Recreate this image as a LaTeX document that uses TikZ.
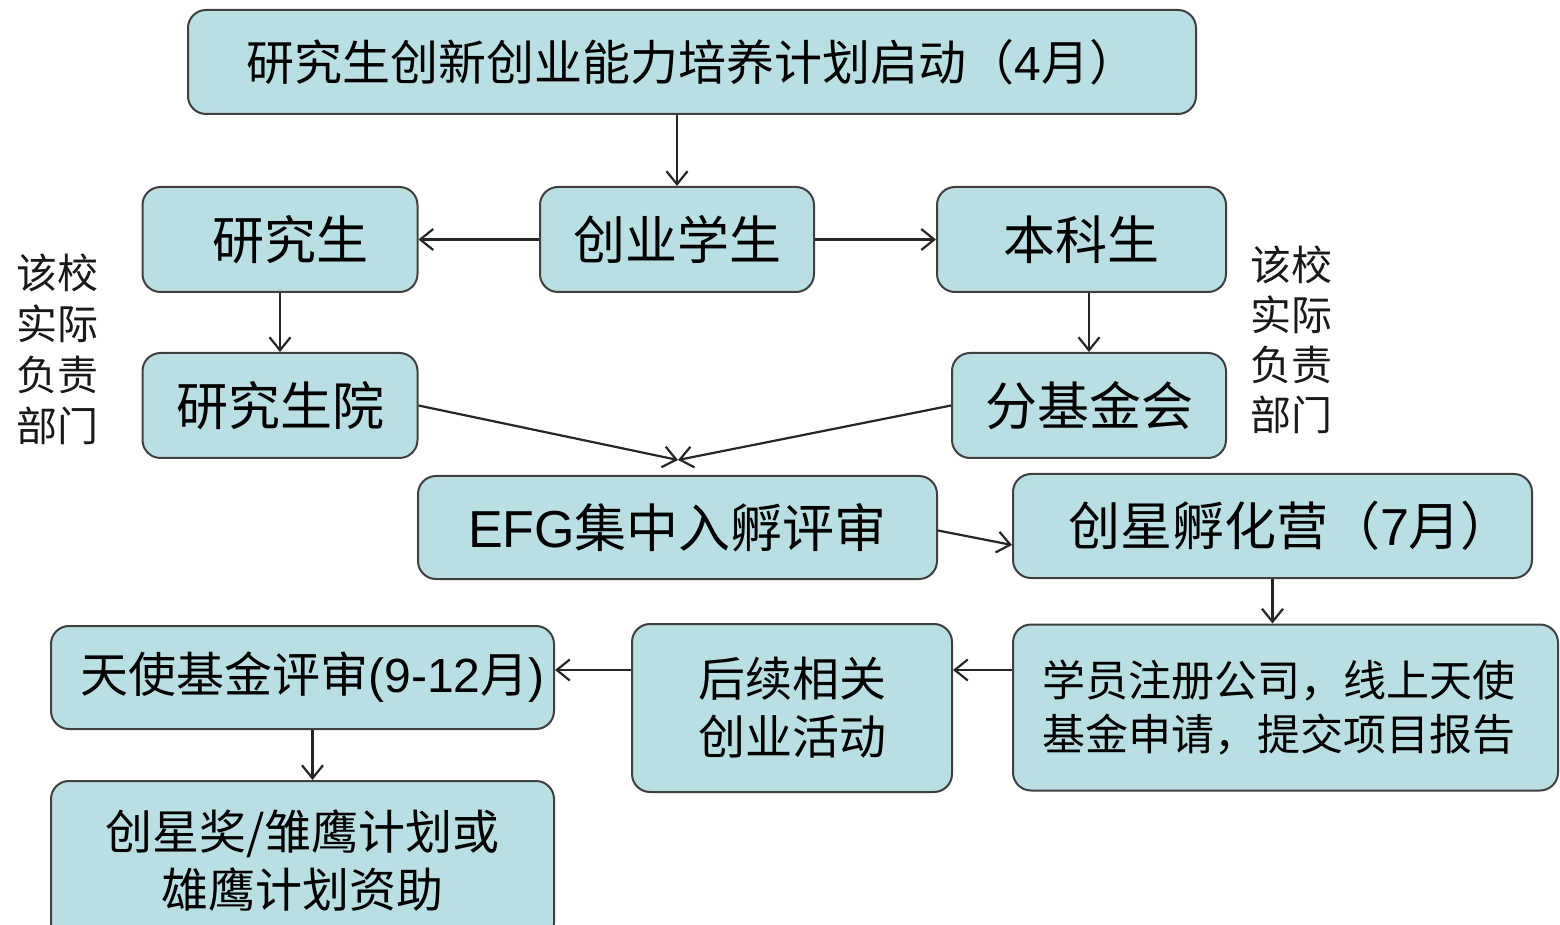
\documentclass[tikz,border=0pt]{standalone}
\usepackage{fontspec}
\setmainfont{Noto Sans CJK SC}
\newfontfamily\latn{Liberation Sans}
\usetikzlibrary{arrows.meta,calc}
\definecolor{boxfill}{RGB}{185,223,227}
\definecolor{boxline}{RGB}{64,64,64}
\tikzset{
  box/.style={draw=boxline, fill=boxfill, line width=1pt, rounded corners=9pt,
              inner sep=0pt, align=center, text=black},
  arr/.style={line width=1.1pt, draw=black!85,
              -{Straight Barb[length=6.5pt,width=10.5pt,line width=1.1pt]}},
  side/.style={align=center, inner sep=0pt, text=black!90}
}
\begin{document}
\begin{tikzpicture}[x=0.5pt,y=-0.5pt]
\useasboundingbox (0,0) rectangle (1560,925);
\clip (0,0) rectangle (1560,925);

\node[box, minimum width=504pt, minimum height=52pt, font=\fontsize{24pt}{29pt}\selectfont]
  (top) at (692,62) {研究生创新创业能力培养计划启动（{\latn 4}月）};

\node[box, minimum width=137.5pt, minimum height=52.5pt, font=\fontsize{26pt}{31pt}\selectfont]
  (yjs) at (280,239.5) {\hspace*{10pt}研究生};
\node[box, minimum width=137pt, minimum height=52.5pt, font=\fontsize{26pt}{31pt}\selectfont]
  (cyxs) at (677,239.5) {创业学生};
\node[box, minimum width=144.5pt, minimum height=52.5pt, font=\fontsize{26pt}{31pt}\selectfont]
  (bks) at (1081.5,239.5) {本科生};

\node[box, minimum width=137.5pt, minimum height=52.5pt, font=\fontsize{26pt}{31pt}\selectfont]
  (yjsy) at (280,405.5) {研究生院};
\node[box, minimum width=137pt, minimum height=52.5pt, font=\fontsize{26pt}{31pt}\selectfont]
  (fjjh) at (1089,405.5) {分基金会};

\node[box, minimum width=259.5pt, minimum height=51.5pt, font=\fontsize{26pt}{31pt}\selectfont]
  (efg) at (677.5,527.5) {{\latn EFG}集中入孵评审};
\node[box, minimum width=259.5pt, minimum height=52pt, font=\fontsize{26pt}{31pt}\selectfont]
  (cxfhy) at (1272.5,526) {\hspace*{18pt}创星孵化营（{\latn 7}月）};

\node[box, minimum width=272.5pt, minimum height=83pt, font=\fontsize{21.5pt}{27pt}\selectfont]
  (xy) at (1285.5,707.5) {学员注册公司，线上天使\hspace*{7pt}\\基金申请，提交项目报告\hspace*{7pt}};
\node[box, minimum width=160pt, minimum height=84pt, font=\fontsize{23.5pt}{29pt}\selectfont]
  (hx) at (792,708) {后续相关\\创业活动};
\node[box, minimum width=251.5pt, minimum height=51.5pt, font=\fontsize{24pt}{29pt}\selectfont]
  (ts) at (302.5,677.5) {\hspace*{10pt}天使基金评审{\latn (9-12}月{\latn )}};
\node[box, minimum width=251.5pt, minimum height=80pt, font=\fontsize{23.5pt}{29pt}\selectfont]
  (cxj) at (302.5,861) {创星奖/雏鹰计划或\\雄鹰计划资助};

\node[side, font=\fontsize{20.5pt}{25.5pt}\selectfont] (lside) at (58,349) {该校\\实际\\负责\\部门};
\node[side, font=\fontsize{20.5pt}{25pt}\selectfont] (rside) at (1291,340) {该校\\实际\\负责\\部门};

% connectors
\draw[arr] (cyxs.north |- top.south) -- (cyxs.north);
\draw[arr] (cyxs.west) -- (yjs.east);
\draw[arr] (cyxs.east) -- (bks.west);
\draw[arr] (yjs.south) -- (yjsy.north);
\draw[arr] (fjjh.north |- bks.south) -- (fjjh.north);
\coordinate (m) at (678,460);
\draw[arr] (yjsy.east) -- (m);
\draw[arr] (fjjh.west) -- (m);
\coordinate (e1) at ($(efg.east)+(0,3)$);
\coordinate (e2) at ($(cxfhy.west)+(0,19)$);
\draw[arr] (e1) -- (e2);
\draw[arr] (cxfhy.south) -- (cxfhy.south |- xy.north);
\coordinate (r1) at ($(xy.west)+(0,-37.5)$);
\draw[arr] (r1) -- (r1 -| hx.east);
\coordinate (r2) at ($(hx.west)+(0,-38)$);
\draw[arr] (r2) -- (r2 -| ts.east);
\coordinate (d1) at ($(ts.south)+(10,0)$);
\draw[arr] (d1) -- (d1 |- cxj.north);
\end{tikzpicture}
\end{document}
